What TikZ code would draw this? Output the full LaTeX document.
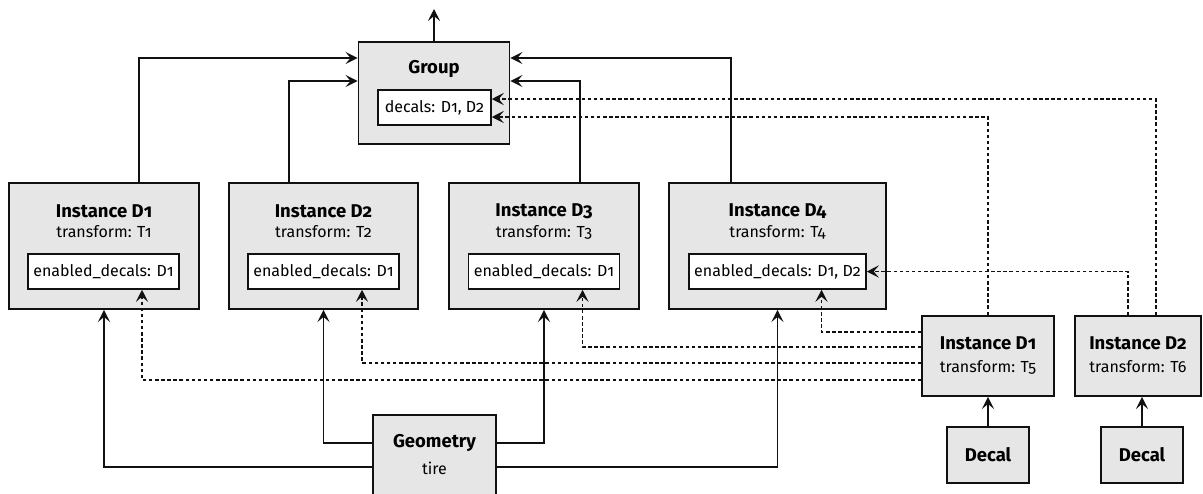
\documentclass[tikz,border=0pt]{standalone}
\usepackage{fontspec}
\setmainfont{Fira Sans}[Numbers=OldStyle]
\usetikzlibrary{arrows.meta,calc}
\definecolor{boxfill}{HTML}{E6E6E6}
\definecolor{ink}{HTML}{111111}
\tikzset{
  box/.style={draw=ink,fill=boxfill,line width=1.9pt,rectangle,inner sep=0pt},
  inbox/.style={draw=ink,fill=white,line width=1.5pt,rectangle,inner sep=0pt,font=\fontsize{16}{18}\selectfont},
  ttl/.style={font=\fontsize{18.5}{20}\selectfont\bfseries,inner sep=0pt},
  sub/.style={font=\fontsize{16}{18}\selectfont,inner sep=0pt},
  arr/.style={draw=ink,line width=1.8pt,-{Stealth[length=12pt,width=12pt,inset=5pt]}},
  darr/.style={draw=ink,line width=1.8pt,dash pattern=on 3.5pt off 2.6pt,-{Stealth[length=12pt,width=12pt,inset=5pt]}}
}
\begin{document}
\begin{tikzpicture}[x=1pt,y=-1pt]
\useasboundingbox (0,0) rectangle (1203,493);
% Group
\node[box,minimum width=151pt,minimum height=102pt] (group) at (434,93) {};
\node[ttl] (gtitle) at (434,69) {Group};
\node[inbox,minimum width=113pt,minimum height=35pt] (gdec) at (434.5,107.5) {decals: D1, D2};
\coordinate (top) at (434,9);
\draw[arr] (group.north) -- (top);
% Instances
\node[box,minimum width=190pt,minimum height=126pt] (i1) at (104,246) {};
\node[ttl] (i1t) at (104,211) {Instance D1};
\node[sub] (i1s) at (104,232) {transform: T1};
\node[inbox,minimum width=151pt,minimum height=35pt] (e1) at (103.5,271.5) {enabled\_decals: D1};

\node[box,minimum width=189pt,minimum height=126pt] (i2) at (323.5,246) {};
\node[ttl] (i2t) at (323.5,211) {Instance D2};
\node[sub] (i2s) at (323.5,232) {transform: T2};
\node[inbox,minimum width=151pt,minimum height=35pt] (e2) at (323.5,271.5) {enabled\_decals: D1};

\node[box,minimum width=190pt,minimum height=126pt] (i3) at (544,246) {};
\node[ttl] (i3t) at (544,211) {Instance D3};
\node[sub] (i3s) at (544,232) {transform: T3};
\node[inbox,minimum width=151pt,minimum height=35pt] (e3) at (544,271.5) {enabled\_decals: D1};

\node[box,minimum width=217pt,minimum height=126pt] (i4) at (777.5,246) {};
\node[ttl] (i4t) at (777.5,211) {Instance D4};
\node[sub] (i4s) at (777.5,232) {transform: T4};
\node[inbox,minimum width=177pt,minimum height=35pt] (e4) at (777.5,271.5) {enabled\_decals: D1, D2};
% Geometry
\node[box,minimum width=123pt,minimum height=90pt] (geo) at (434.5,460) {};
\node[ttl] (geot) at (434.5,443) {Geometry};
\node[sub] (geos) at (434.5,468) {tire};
% right instances
\node[box,minimum width=132pt,minimum height=80pt] (j1) at (988,356) {};
\node[ttl] (j1t) at (988,343) {Instance D1};
\node[sub] (j1s) at (988,367) {transform: T5};
\node[box,minimum width=126pt,minimum height=80pt] (j2) at (1138,356) {};
\node[ttl] (j2t) at (1138,343) {Instance D2};
\node[sub] (j2s) at (1138,367) {transform: T6};
\node[box,minimum width=82pt,minimum height=56pt,ttl] (dc1) at (988,455) {Decal};
\node[box,minimum width=82pt,minimum height=56pt,ttl] (dc2) at (1142,455) {Decal};
% instance -> group
\draw[arr] ([xshift=35pt]i1.north) |- ([yshift=35pt]group.west);
\draw[arr] ([xshift=-34.5pt]i2.north) |- ([yshift=12pt]group.west);
\draw[arr] ([xshift=36pt]i3.north) |- ([yshift=12pt]group.east);
\draw[arr] ([xshift=-46.5pt]i4.north) |- ([yshift=35pt]group.east);
% geometry -> instances
\draw[arr] ([yshift=17pt]geo.west) -| (i2.south);
\draw[arr] ([yshift=17pt]geo.east) -| (i3.south);
\draw[arr] ([yshift=-7pt]geo.west) -| (i1.south);
\draw[arr] ([yshift=-7pt]geo.east) -| (i4.south);
% decal -> instance
\draw[arr] (dc1.north) -- (j1.south);
\draw[arr] (dc2.north) -- (dc2.north |- j2.south);
% dotted
\draw[darr] ([yshift=24pt]j1.west) -| ([xshift=44pt]e4.south);
\draw[darr] ([yshift=9pt]j1.west) -| ([xshift=38.5pt]e3.south);
\draw[darr] ([yshift=-7pt]j1.west) -| ([xshift=38.5pt]e2.south);
\draw[darr] ([yshift=-24pt]j1.west) -| ([xshift=38.5pt]e1.south);
\draw[darr] (j1.north) |- ([yshift=-9.5pt]gdec.east);
\draw[darr] ([xshift=18pt]j2.north) |- ([yshift=8.5pt]gdec.east);
\draw[darr] ([xshift=-10pt]j2.north) |- (e4.east);
\end{tikzpicture}
\end{document}
